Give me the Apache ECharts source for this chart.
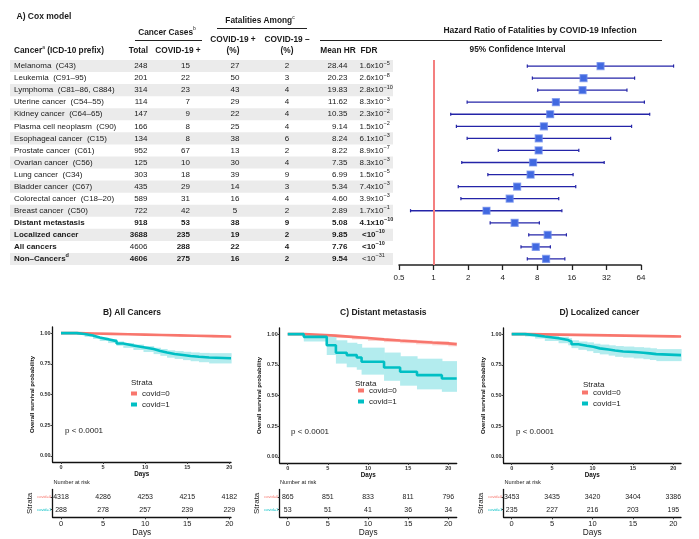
<!DOCTYPE html>
<html>
<head>
<meta charset="utf-8">
<title>Cox model and survival curves</title>
<script src="https://cdn.jsdelivr.net/npm/echarts@6.0.0/dist/echarts.min.js"></script>
<style>
  html, body { margin: 0; padding: 0; background: #fff; }
  #main { width: 699px; height: 539px; }
</style>
</head>
<body>
<div id="main"></div>
<script>
// ---- A) Cox model table ----
var cancers = ['Melanoma  (C43)', 'Leukemia  (C91–95)', 'Lymphoma  (C81–86, C884)', 'Uterine cancer  (C54–55)',
  'Kidney cancer  (C64–65)', 'Plasma cell neoplasm  (C90)', 'Esophageal cancer  (C15)', 'Prostate cancer  (C61)',
  'Ovarian cancer  (C56)', 'Lung cancer  (C34)', 'Bladder cancer  (C67)', 'Colorectal cancer  (C18–20)',
  'Breast cancer  (C50)', 'Distant metastasis', 'Localized cancer', 'All cancers', 'Non–Cancers'];
var totalCases = [248, 201, 314, 114, 147, 166, 134, 952, 125, 303, 435, 589, 722, 918, 3688, 4606, 4606];
var covidCases = [15, 22, 23, 7, 9, 8, 8, 67, 10, 18, 29, 31, 42, 53, 235, 288, 275];
var fatalPos = [27, 50, 43, 29, 22, 25, 38, 13, 30, 39, 14, 16, 5, 38, 19, 22, 16];
var fatalNeg = [2, 3, 4, 4, 4, 4, 6, 2, 4, 9, 3, 4, 2, 9, 2, 4, 2];
var meanHR = [28.44, 20.23, 19.83, 11.62, 10.35, 9.14, 8.24, 8.22, 7.35, 6.99, 5.34, 4.60, 2.89, 5.08, 9.85, 7.76, 9.54];
var fdrBase = ['1.6x10', '2.6x10', '2.8x10', '8.3x10', '2.3x10', '1.5x10', '6.1x10', '8.9x10', '8.3x10',
  '1.5x10', '7.4x10', '3.9x10', '1.7x10', '4.1x10', '<10', '<10', '<10'];
var fdrExp = ['−5', '−8', '−10', '−3', '−2', '−2', '−3', '−7', '−3', '−5', '−3', '−3', '−1', '−10', '−10', '−10', '−31'];
// 95% CI
var ciLow = [6.55, 7.25, 8.07, 1.96, 1.41, 1.58, 1.96, 3.66, 1.76, 2.97, 1.64, 1.73, 0.63, 3.11, 6.74, 5.77, 6.55];
var ciHigh = [123, 56.3, 48.3, 68.5, 76.2, 53, 34.8, 18.4, 30.6, 16.4, 17.3, 12.3, 13.1, 8.34, 14.35, 10.4, 13.9];
var hrTicks = [0.5, 1, 2, 4, 8, 16, 32, 64];
var refHR = 1;

// ---- Kaplan-Meier curves (days, survival, CI) ----
var kmB0Days = [0, 2, 4, 6, 8, 10, 12, 14, 16, 18, 20, 20.2];
var kmB0Surv = [1, 0.997, 0.994, 0.991, 0.988, 0.985, 0.982, 0.979, 0.976, 0.973, 0.970, 0.970];
var kmB0Low = [1, 0.995, 0.991, 0.987, 0.984, 0.980, 0.977, 0.973, 0.970, 0.966, 0.963, 0.963];
var kmB0High = [1, 0.999, 0.997, 0.994, 0.992, 0.990, 0.987, 0.985, 0.982, 0.980, 0.977, 0.977];
var kmB1Days = [0, 1.9, 2.8, 3.8, 4.6, 5.6, 6.6, 7.4, 8.6, 9.8, 11.0, 11.8, 12.6, 13.5, 14.5, 15.4, 16.4, 17.6, 20.2];
var kmB1Surv = [1, 0.993, 0.980, 0.965, 0.950, 0.935, 0.915, 0.900, 0.885, 0.870, 0.855, 0.843, 0.830, 0.822, 0.814, 0.807, 0.801, 0.795, 0.795];
var kmB1Low = [1, 0.987, 0.970, 0.953, 0.936, 0.919, 0.897, 0.880, 0.863, 0.846, 0.829, 0.815, 0.800, 0.790, 0.780, 0.771, 0.763, 0.753, 0.750];
var kmB1High = [1, 0.999, 0.990, 0.977, 0.964, 0.951, 0.933, 0.920, 0.907, 0.894, 0.881, 0.871, 0.860, 0.854, 0.848, 0.843, 0.839, 0.837, 0.840];

var kmC0Days = [0, 2, 4, 6, 8, 10, 12, 14, 16, 18, 20, 21.05];
var kmC0Surv = [1, 0.995, 0.988, 0.978, 0.968, 0.957, 0.948, 0.940, 0.932, 0.925, 0.918, 0.913];
var kmC0Low = [1, 0.990, 0.981, 0.969, 0.957, 0.945, 0.935, 0.926, 0.917, 0.909, 0.901, 0.896];
var kmC0High = [1, 0.999, 0.995, 0.987, 0.979, 0.969, 0.961, 0.954, 0.947, 0.941, 0.935, 0.930];
var kmC1Days = [0, 2.0, 4.86, 6.0, 7.35, 8.6, 9.2, 12.0, 14.0, 16.1, 19.2, 21.05];
var kmC1Surv = [1, 0.978, 0.910, 0.848, 0.829, 0.810, 0.775, 0.728, 0.693, 0.666, 0.639, 0.639];
var kmC1Low = [1, 0.94, 0.83, 0.76, 0.73, 0.71, 0.67, 0.62, 0.58, 0.55, 0.53, 0.53];
var kmC1High = [1, 1.0, 0.99, 0.95, 0.93, 0.92, 0.89, 0.85, 0.82, 0.80, 0.78, 0.78];

var kmD0Days = [0, 2, 4, 6, 8, 10, 12, 14, 16, 18, 20, 20.95];
var kmD0Surv = [1, 0.998, 0.996, 0.994, 0.992, 0.990, 0.988, 0.986, 0.984, 0.982, 0.981, 0.981];
var kmD0Low = [1, 0.997, 0.994, 0.991, 0.989, 0.986, 0.984, 0.981, 0.979, 0.977, 0.976, 0.976];
var kmD0High = [1, 0.999, 0.998, 0.996, 0.995, 0.994, 0.992, 0.991, 0.989, 0.987, 0.986, 0.986];
var kmD1Days = [0, 1.65, 2.9, 4.1, 5.8, 7.0, 7.4, 8.25, 9.3, 10.1, 10.9, 12.0, 12.8, 13.8, 15.1, 16.3, 17.1, 17.9, 20.95];
var kmD1Surv = [1, 0.992, 0.981, 0.966, 0.952, 0.938, 0.918, 0.906, 0.897, 0.884, 0.875, 0.867, 0.859, 0.854, 0.848, 0.843, 0.837, 0.829, 0.829];
var kmD1Low = [1, 0.981, 0.964, 0.944, 0.926, 0.909, 0.886, 0.872, 0.861, 0.846, 0.835, 0.825, 0.815, 0.809, 0.802, 0.796, 0.789, 0.780, 0.780];
var kmD1High = [1, 1.0, 0.998, 0.988, 0.978, 0.967, 0.950, 0.940, 0.933, 0.922, 0.915, 0.909, 0.903, 0.899, 0.894, 0.890, 0.885, 0.878, 0.878];

// ---- number at risk ----
var riskDays = [0, 5, 10, 15, 20];
var riskB0 = [4318, 4286, 4253, 4215, 4182];
var riskB1 = [288, 278, 257, 239, 229];
var riskC0 = [865, 851, 833, 811, 796];
var riskC1 = [53, 51, 41, 36, 34];
var riskD0 = [3453, 3435, 3420, 3404, 3386];
var riskD1 = [235, 227, 216, 203, 195];
var strata = ['covid=0', 'covid=1'];
var survTicks = [0, 0.25, 0.5, 0.75, 1];

var FONT = "'Liberation Sans', Arial, Helvetica, sans-serif";
var RED = '#F8766D', TEAL = '#00BFC4';
var INK = '#1a1a1a';

var chart = echarts.init(document.getElementById('main'));

function tableItem(params, api) {
  var i = api.value(1);
  var y = api.coord([0, i])[1];
  var h = api.size([0, 1])[1];
  var bold = i >= 13;
  var kids = [];
  if (i % 2 === 0) {
    kids.push({ type: 'rect', shape: { x: api.coord([10, i])[0], y: y - h / 2, width: 383, height: h }, style: { fill: '#ebebeb' } });
  }
  function cell(x, text, align, b, rich) {
    kids.push({
      type: 'text', x: api.coord([x, i])[0], y: y,
      style: { text: text, align: align, verticalAlign: 'middle', fontSize: 8, fontFamily: FONT,
        fontWeight: b ? 'bold' : 'normal', fill: INK, rich: rich }
    });
  }
  function supRich(b) {
    return {
      m: { fontSize: 8, fontFamily: FONT, fontWeight: b ? 'bold' : 'normal', fill: INK, lineHeight: 12 },
      s: { fontSize: 5.5, fontFamily: FONT, fontWeight: b ? 'bold' : 'normal', fill: INK, lineHeight: 6, verticalAlign: 'top' }
    };
  }
  if (i === cancers.length - 1) {
    cell(14, '{m|' + cancers[i] + '}{s|d}', 'left', true, supRich(true));
  } else {
    cell(14, cancers[i], 'left', bold);
  }
  cell(147.5, String(totalCases[i]), 'right', bold && i !== 15);
  cell(190, String(covidCases[i]), 'right', bold);
  cell(235, String(fatalPos[i]), 'center', bold);
  cell(287, String(fatalNeg[i]), 'center', bold);
  cell(347.5, meanHR[i].toFixed(2), 'right', bold);
  var fb = i >= 13 && i <= 15;
  cell(fdrBase[i].charAt(0) === '<' ? 362 : 359.5, '{m|' + fdrBase[i] + '}{s|' + fdrExp[i] + '}', 'left', fb, supRich(fb));
  return { type: 'group', children: kids };
}

function forestItem(params, api) {
  var yi = api.value(0);
  var pLo = api.coord([api.value(1), yi]);
  var pHr = api.coord([api.value(2), yi]);
  var pHi = api.coord([api.value(3), yi]);
  var lc = '#2424a8';
  return {
    type: 'group', children: [
      { type: 'line', shape: { x1: pLo[0], y1: pLo[1], x2: pHi[0], y2: pHi[1] }, style: { stroke: lc, lineWidth: 1.3 } },
      { type: 'line', shape: { x1: pLo[0], y1: pLo[1] - 1.6, x2: pLo[0], y2: pLo[1] + 1.6 }, style: { stroke: lc, lineWidth: 1.2 } },
      { type: 'line', shape: { x1: pHi[0], y1: pHi[1] - 1.6, x2: pHi[0], y2: pHi[1] + 1.6 }, style: { stroke: lc, lineWidth: 1.2 } },
      { type: 'rect', shape: { x: pHr[0] - 3.5, y: pHr[1] - 3.5, width: 7, height: 7 },
        style: { fill: '#4169E1', stroke: 'rgba(110,140,235,0.7)', lineWidth: 1.2 } }
    ]
  };
}

function bandData(days, lo, hi) {
  var out = [];
  for (var i = 0; i < days.length - 1; i++) out.push([days[i], days[i + 1], lo[i], hi[i]]);
  return out;
}
function bandSeries(axis, days, lo, hi, fill) {
  return {
    type: 'custom', xAxisIndex: axis, yAxisIndex: axis, silent: true, clip: true,
    encode: { x: [0, 1], y: [2, 3] },
    data: bandData(days, lo, hi),
    renderItem: function (params, api) {
      var p1 = api.coord([api.value(0), api.value(3)]);
      var p2 = api.coord([api.value(1), api.value(2)]);
      return { type: 'rect', shape: { x: p1[0], y: p1[1], width: p2[0] - p1[0] + 0.6, height: p2[1] - p1[1] }, style: { fill: fill } };
    }
  };
}
function kmLine(axis, name, days, surv, color) {
  return {
    type: 'line', name: name, xAxisIndex: axis, yAxisIndex: axis, step: 'end', symbol: 'none',
    silent: true, lineStyle: { color: color, width: 2.6 }, itemStyle: { color: color },
    data: days.map(function (d, i) { return [d, surv[i]]; })
  };
}
function riskSeries(axis, r0, r1) {
  var data = [];
  riskDays.forEach(function (d, i) { data.push([d, 1, r0[i]]); data.push([d, 2, r1[i]]); });
  return {
    type: 'custom', xAxisIndex: axis, yAxisIndex: axis, silent: true, data: data,
    encode: { x: 0, y: 1 },
    renderItem: function (params, api) {
      var p = api.coord([api.value(0), api.value(1)]);
      return { type: 'text', x: p[0], y: p[1], style: { text: String(api.value(2)), align: 'center', verticalAlign: 'middle', fontSize: 7, fontFamily: FONT, fill: '#222' } };
    }
  };
}

var panels = [
  { left: 52.6, top: 327, width: 178.4, max: 20.2 },
  { left: 279.7, top: 328, width: 177, max: 21.05 },
  { left: 503.6, top: 328, width: 177.4, max: 20.95 }
];

var grids = [
  { left: 0, top: 60, width: 699, height: 205 },
  { left: 399, top: 60, width: 242, height: 205 }
];
var xAxes = [
  { gridIndex: 0, type: 'value', min: 0, max: 699, show: false },
  { gridIndex: 1, type: 'value', min: Math.log2(hrTicks[0]), max: Math.log2(hrTicks[hrTicks.length - 1]),
    axisLine: { show: true, onZero: false, lineStyle: { color: '#222', width: 1.5 } },
    axisTick: { show: true, length: 5, customValues: hrTicks.map(Math.log2), lineStyle: { color: '#222', width: 1.3 } },
    axisLabel: { customValues: hrTicks.map(Math.log2), fontSize: 8, color: '#222', margin: 9,
      formatter: function (v) { return String(Math.round(Math.pow(2, v) * 10) / 10); } },
    splitLine: { show: false } }
];
var yAxes = [
  { gridIndex: 0, type: 'category', data: cancers, inverse: true, show: false },
  { gridIndex: 1, type: 'category', data: cancers, inverse: true, show: false }
];
panels.forEach(function (p) {
  grids.push({ left: p.left, top: p.top, width: p.width, height: 135 });
});
panels.forEach(function (p) {
  grids.push({ left: p.left, top: 489.4, width: p.width, height: 27.9 });
});
var axisCol = '#111';
panels.forEach(function (p, k) {
  xAxes.push({
    gridIndex: 2 + k, type: 'value', min: -1, max: p.max,
    axisLine: { show: true, onZero: false, lineStyle: { color: axisCol, width: 1.3 } },
    axisTick: { show: true, customValues: riskDays, length: 2, lineStyle: { color: '#333' } },
    axisLabel: { customValues: riskDays, fontSize: 5.5, fontWeight: 'bold', color: '#333', margin: 2 },
    splitLine: { show: false },
    name: 'Days', nameLocation: 'middle', nameGap: 8,
    nameTextStyle: { fontSize: 6.3, fontWeight: 'bold', color: '#111' }
  });
  yAxes.push({
    gridIndex: 2 + k, type: 'value', min: -0.05, max: 1.05,
    axisLine: { show: true, onZero: false, lineStyle: { color: axisCol, width: 1.3 } },
    axisTick: { show: true, customValues: survTicks, length: 2, lineStyle: { color: '#333' } },
    axisLabel: { customValues: survTicks, fontSize: 5.5, fontWeight: 'bold', color: '#333', margin: 2,
      formatter: function (v) { return v.toFixed(2); } },
    splitLine: { show: false },
    name: 'Overall survival probability', nameLocation: 'middle', nameGap: 17,
    nameTextStyle: { fontSize: 6, fontWeight: 'bold', color: '#111' }
  });
});
panels.forEach(function (p, k) {
  xAxes.push({
    gridIndex: 5 + k, type: 'value', min: -1, max: p.max,
    axisLine: { show: true, onZero: false, lineStyle: { color: axisCol, width: 1.3 } },
    axisTick: { show: true, customValues: riskDays, length: 2, lineStyle: { color: '#333' } },
    axisLabel: { customValues: riskDays, fontSize: 7.5, color: '#222', margin: 3 },
    splitLine: { show: false },
    name: 'Days', nameLocation: 'middle', nameGap: 11.5,
    nameTextStyle: { fontSize: 8.3, color: '#222' }
  });
  yAxes.push({
    gridIndex: 5 + k, type: 'value', min: 0.4, max: 2.6, inverse: true,
    axisLine: { show: true, onZero: false, lineStyle: { color: axisCol, width: 1.3 } },
    axisTick: { show: true, customValues: [1, 2], length: 2, lineStyle: { color: '#333' } },
    axisLabel: { customValues: [1, 2], margin: 1.5,
      formatter: function (v) { return (v === 1 ? '{r|' : '{t|') + strata[v - 1] + '}'; },
      rich: { r: { color: RED, fontSize: 4, fontFamily: FONT }, t: { color: TEAL, fontSize: 4, fontFamily: FONT } } },
    splitLine: { show: false },
    name: 'Strata', nameLocation: 'middle', nameGap: 16, nameRotate: 90,
    nameTextStyle: { fontSize: 8, color: '#222' }
  });
});

var series = [
  { type: 'custom', xAxisIndex: 0, yAxisIndex: 0, silent: true, clip: false,
    encode: { x: 0, y: 1 },
    data: cancers.map(function (c, i) { return [0, i]; }),
    renderItem: tableItem },
  { type: 'custom', xAxisIndex: 1, yAxisIndex: 1, silent: true, clip: false, z: 3,
    encode: { x: [1, 2, 3], y: 0 },
    data: cancers.map(function (c, i) { return [i, Math.log2(ciLow[i]), Math.log2(meanHR[i]), Math.log2(ciHigh[i])]; }),
    renderItem: forestItem,
    markLine: { silent: true, symbol: ['none', 'none'], label: { show: false },
      lineStyle: { color: '#F47F7F', width: 2, type: 'solid' },
      data: [{ xAxis: Math.log2(refHR) }] } }
];

var km = [
  [kmB0Days, kmB0Surv, kmB0Low, kmB0High, kmB1Days, kmB1Surv, kmB1Low, kmB1High, riskB0, riskB1],
  [kmC0Days, kmC0Surv, kmC0Low, kmC0High, kmC1Days, kmC1Surv, kmC1Low, kmC1High, riskC0, riskC1],
  [kmD0Days, kmD0Surv, kmD0Low, kmD0High, kmD1Days, kmD1Surv, kmD1Low, kmD1High, riskD0, riskD1]
];
km.forEach(function (s, k) {
  var ax = 2 + k;
  series.push(bandSeries(ax, s[0], s[2], s[3], '#fcd2ce'));
  series.push(bandSeries(ax, s[4], s[6], s[7], '#b3ecee'));
  series.push(kmLine(ax, strata[0], s[0], s[1], RED));
  series.push(kmLine(ax, strata[1], s[4], s[5], TEAL));
  series.push(riskSeries(5 + k, s[8], s[9]));
});

function legendAt(left, top) {
  return {
    data: strata, orient: 'vertical', left: left, top: top, padding: 0, itemGap: 1,
    itemWidth: 6, itemHeight: 4, icon: 'rect', selectedMode: false,
    textStyle: { fontSize: 8, fontFamily: FONT, color: '#222', lineHeight: 10 }
  };
}

function txt(x, y, text, size, bold, align, color) {
  return { type: 'text', x: x, y: y, silent: true,
    style: { text: text, fontSize: size, fontWeight: bold ? 'bold' : 'normal', fontFamily: FONT,
      fill: color || INK, align: align || 'left', verticalAlign: 'middle' } };
}
function supTxt(x, y, text, size, align) {
  return { type: 'text', x: x, y: y, silent: true,
    style: { text: text, align: align, verticalAlign: 'middle', fontSize: size, fontFamily: FONT, fill: INK,
      rich: {
        m: { fontSize: size, fontWeight: 'bold', fontFamily: FONT, fill: INK, lineHeight: 12 },
        s: { fontSize: 5, fontFamily: FONT, fill: INK, lineHeight: 6, verticalAlign: 'top' }
      } } };
}
function hline(x1, x2, y) {
  return { type: 'line', silent: true, shape: { x1: x1, y1: y, x2: x2, y2: y }, style: { stroke: '#222', lineWidth: 1.2 } };
}

var graphics = [
  txt(16.5, 17, 'A) Cox model', 8.5, true),
  supTxt(167, 32.3, '{m|Cancer Cases}{s|b}', 8.3, 'center'),
  hline(135, 202, 40.5),
  supTxt(260, 20.7, '{m|Fatalities Among}{s|c}', 8.3, 'center'),
  hline(217, 307, 28.5),
  supTxt(14, 50.7, '{m|Cancer}{s|a}{m| (ICD-10 prefix)}', 8.3, 'left'),
  txt(148, 50.7, 'Total', 8.3, true, 'right'),
  txt(178, 50.7, 'COVID-19 +', 8.3, true, 'center'),
  txt(233, 40, 'COVID-19 +', 8.3, true, 'center'),
  txt(233, 50.7, '(%)', 8.3, true, 'center'),
  txt(287, 40, 'COVID-19 –', 8.3, true, 'center'),
  txt(287, 50.7, '(%)', 8.3, true, 'center'),
  txt(338, 50.7, 'Mean HR', 8.3, true, 'center'),
  txt(360.5, 50.7, 'FDR', 8.3, true, 'left'),
  hline(320, 662, 40.5),
  txt(540, 30.7, 'Hazard Ratio of Fatalities by COVID-19 Infection', 8.5, true, 'center'),
  txt(517.5, 50, '95% Confidence Interval', 8.3, true, 'center'),
  txt(132, 313, 'B) All Cancers', 8.5, true, 'center'),
  txt(383.3, 313, 'C) Distant metastasis', 8.5, true, 'center'),
  txt(599.3, 313, 'D) Localized cancer', 8.5, true, 'center'),
  txt(65, 431, 'p < 0.0001', 8, false, 'left', '#222'),
  txt(291, 431.3, 'p < 0.0001', 8, false, 'left', '#222'),
  txt(516, 431.3, 'p < 0.0001', 8, false, 'left', '#222'),
  txt(131, 382.7, 'Strata', 8, false, 'left', '#222'),
  txt(355, 384, 'Strata', 8, false, 'left', '#222'),
  txt(583, 385, 'Strata', 8, false, 'left', '#222'),
  txt(53.5, 482.7, 'Number at risk', 5.6, false, 'left', '#222'),
  txt(280, 482.7, 'Number at risk', 5.6, false, 'left', '#222'),
  txt(504.5, 482.7, 'Number at risk', 5.6, false, 'left', '#222')
];

chart.setOption({
  animation: false,
  backgroundColor: '#fff',
  textStyle: { fontFamily: FONT },
  grid: grids,
  xAxis: xAxes,
  yAxis: yAxes,
  legend: [legendAt(131, 388.5), legendAt(358, 385.5), legendAt(582, 387.5)],
  graphic: { elements: graphics },
  series: series
});
</script>
</body>
</html>
